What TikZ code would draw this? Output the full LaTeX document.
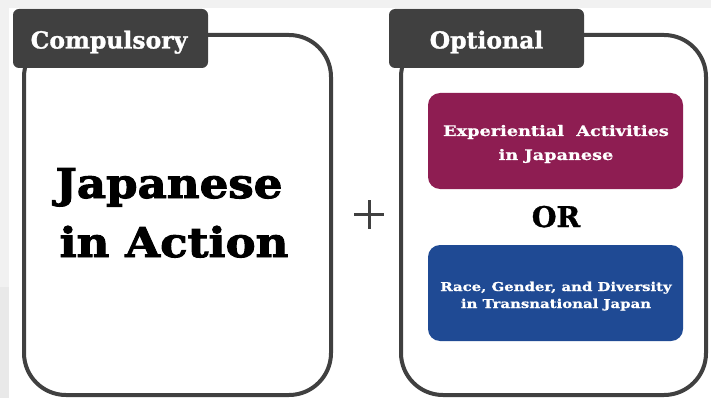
\documentclass[tikz,border=0pt]{standalone}
\usepackage{fontspec}
\setmainfont{DejaVu Serif}
\newfontfamily\heavy{DejaVu Serif}[UprightFont=* Bold, FakeBold=1.2]
\newfontfamily\heavywide{DejaVu Serif}[UprightFont=* Bold, FakeStretch=1.22, FakeBold=0.8]
\newfontfamily\heavybig{DejaVu Serif}[UprightFont=* Bold, FakeStretch=1.1, FakeBold=2.4]
\definecolor{bgA}{HTML}{F1F1F1}
\definecolor{bgB}{HTML}{E9E9E9}
\definecolor{frame}{HTML}{404040}
\definecolor{magenta}{HTML}{8E1D52}
\definecolor{navy}{HTML}{1F4A94}
\tikzset{
  outerbox/.style={draw=frame, line width=4pt, rounded corners=42pt, fill=white},
  tabbox/.style={fill=frame, rounded corners=6pt},
  tabtext/.style={anchor=base, inner sep=0pt, text=white, font=\heavy\fontsize{23.5}{26}\selectfont},
  optbox/.style={rounded corners=12pt},
  opttext/.style={anchor=base, inner sep=0pt, text=white, font=\heavywide\fontsize{14.5}{17}\selectfont},
  racetext/.style={opttext, font=\heavywide\fontsize{12.2}{15}\selectfont},
  bigtext/.style={anchor=base, inner sep=0pt, font=\heavybig\fontsize{41}{48}\selectfont}
}
\begin{document}
\begin{tikzpicture}[x=1pt,y=-1pt]
\useasboundingbox (0,0) rectangle (711,398);
\fill[white] (0,0) rectangle (711,398);
\fill[bgA] (0,0) rectangle (711,8);
\fill[bgA] (0,8) rectangle (9,287);
\fill[bgB] (0,287) rectangle (9,398);
% left panel
\draw[outerbox] (24,35) rectangle (331,395);
\fill[tabbox] (13,9) rectangle (208,68);
\node[tabtext] (comp) at (109,48.5) {Compulsory};
\node[bigtext] (jap) at (169,198) {Japanese};
\node[bigtext] (act) at (174,257) {in Action};
% plus
\draw[frame, line width=3pt] (354,214) -- (384,214) (369,200) -- (369,229);
% right panel
\draw[outerbox] (401,35) rectangle (706,395);
\fill[tabbox] (389,9) rectangle (584,68);
\node[tabtext] (opt) at (486.5,48.5) {Optional};
\fill[optbox, magenta] (428,93) rectangle (683,189);
\node[opttext] (exp1) at (556,136) {Experiential\ \ Activities};
\node[opttext] (exp2) at (556,160) {in Japanese};
\node[anchor=base, inner sep=0pt, font=\heavy\fontsize{28.5}{32}\selectfont] (or) at (556,227) {OR};
\fill[optbox, navy] (428,245) rectangle (683,341);
\node[racetext] (race1) at (556,291) {Race, Gender, and Diversity};
\node[racetext] (race2) at (556,308) {in Transnational Japan};
\end{tikzpicture}
\end{document}
